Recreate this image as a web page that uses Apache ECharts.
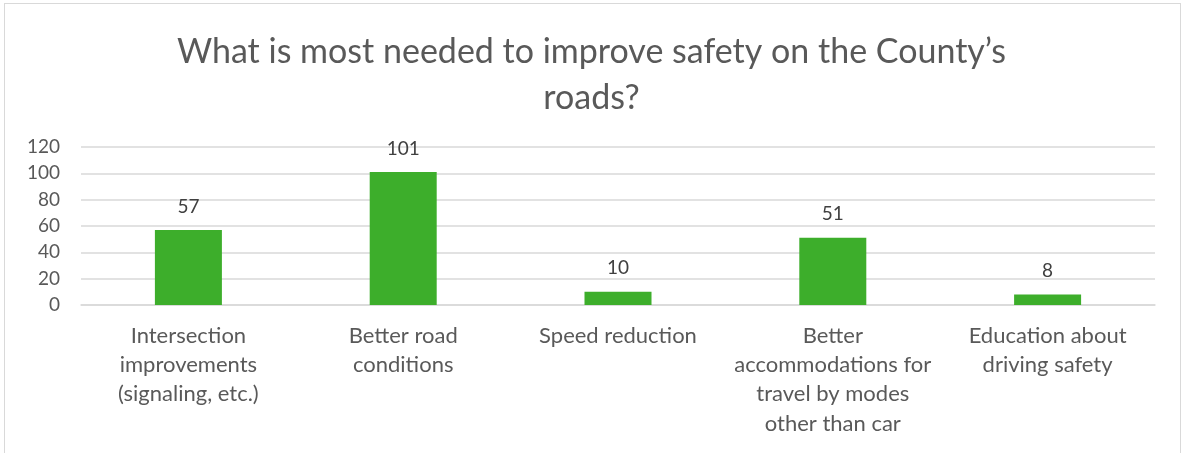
<!DOCTYPE html>
<html>
<head>
<meta charset="utf-8">
<script src="https://cdn.jsdelivr.net/npm/echarts@6/dist/echarts.min.js"></script>
<style>
    body { margin: 0; background: #fff; }
    #chart { position: absolute; left: 0; top: 0; width: 1183px; height: 453px; }
    #frame { position: absolute; left: 4px; top: 3px; width: 1175px; height: 470px;
             border: 1px solid #d9d9d9; pointer-events: none; }
</style>
</head>
<body>
<div id="chart"></div>
<div id="frame"></div>
<script>
var titleText = 'What is most needed to improve safety on the County\u2019s\nroads?';
var categories = [
    'Intersection\nimprovements\n(signaling, etc.)',
    'Better road\nconditions',
    'Speed reduction',
    'Better\naccommodations for\ntravel by modes\nother than car',
    'Education about\ndriving safety'
];
var values = [57, 101, 10, 51, 8];
var yTicks = [0, 20, 40, 60, 80, 100, 120];

var font = 'Lato, "Open Sans", sans-serif';
var box = echarts.init(document.getElementById('chart'));
var option = {
    animation: false,
    title: {
        text: titleText,
        left: 'center',
        top: 24,
        textStyle: {
            fontFamily: font,
            fontSize: 34,
            fontWeight: 'normal',
            color: '#595959',
            lineHeight: 46
        }
    },
    grid: {
        left: 81,
        right: 28,
        top: 147,
        bottom: 148
    },
    xAxis: {
        type: 'category',
        data: categories,
        axisLine: { lineStyle: { color: '#d9d9d9', width: 1.5 } },
        axisTick: { show: false },
        axisLabel: {
            interval: 0,
            margin: 16,
            fontFamily: font,
            fontSize: 22,
            lineHeight: 29.3,
            color: '#595959',
            align: 'center'
        }
    },
    yAxis: {
        type: 'value',
        min: yTicks[0],
        max: yTicks[yTicks.length - 1],
        interval: 20,
        axisLine: { show: false },
        axisTick: { show: false },
        splitLine: { lineStyle: { color: '#d9d9d9', width: 1.5 } },
        axisLabel: {
            margin: 21,
            fontFamily: font,
            fontSize: 19,
            color: '#595959'
        }
    },
    series: [{
        type: 'bar',
        data: values,
        barWidth: 67,
        itemStyle: { color: '#3dae2b' },
        label: {
            show: true,
            position: 'top',
            distance: 14,
            fontFamily: font,
            fontSize: 19,
            color: '#404040'
        }
    }]
};
box.setOption(option);
</script>
</body>
</html>
